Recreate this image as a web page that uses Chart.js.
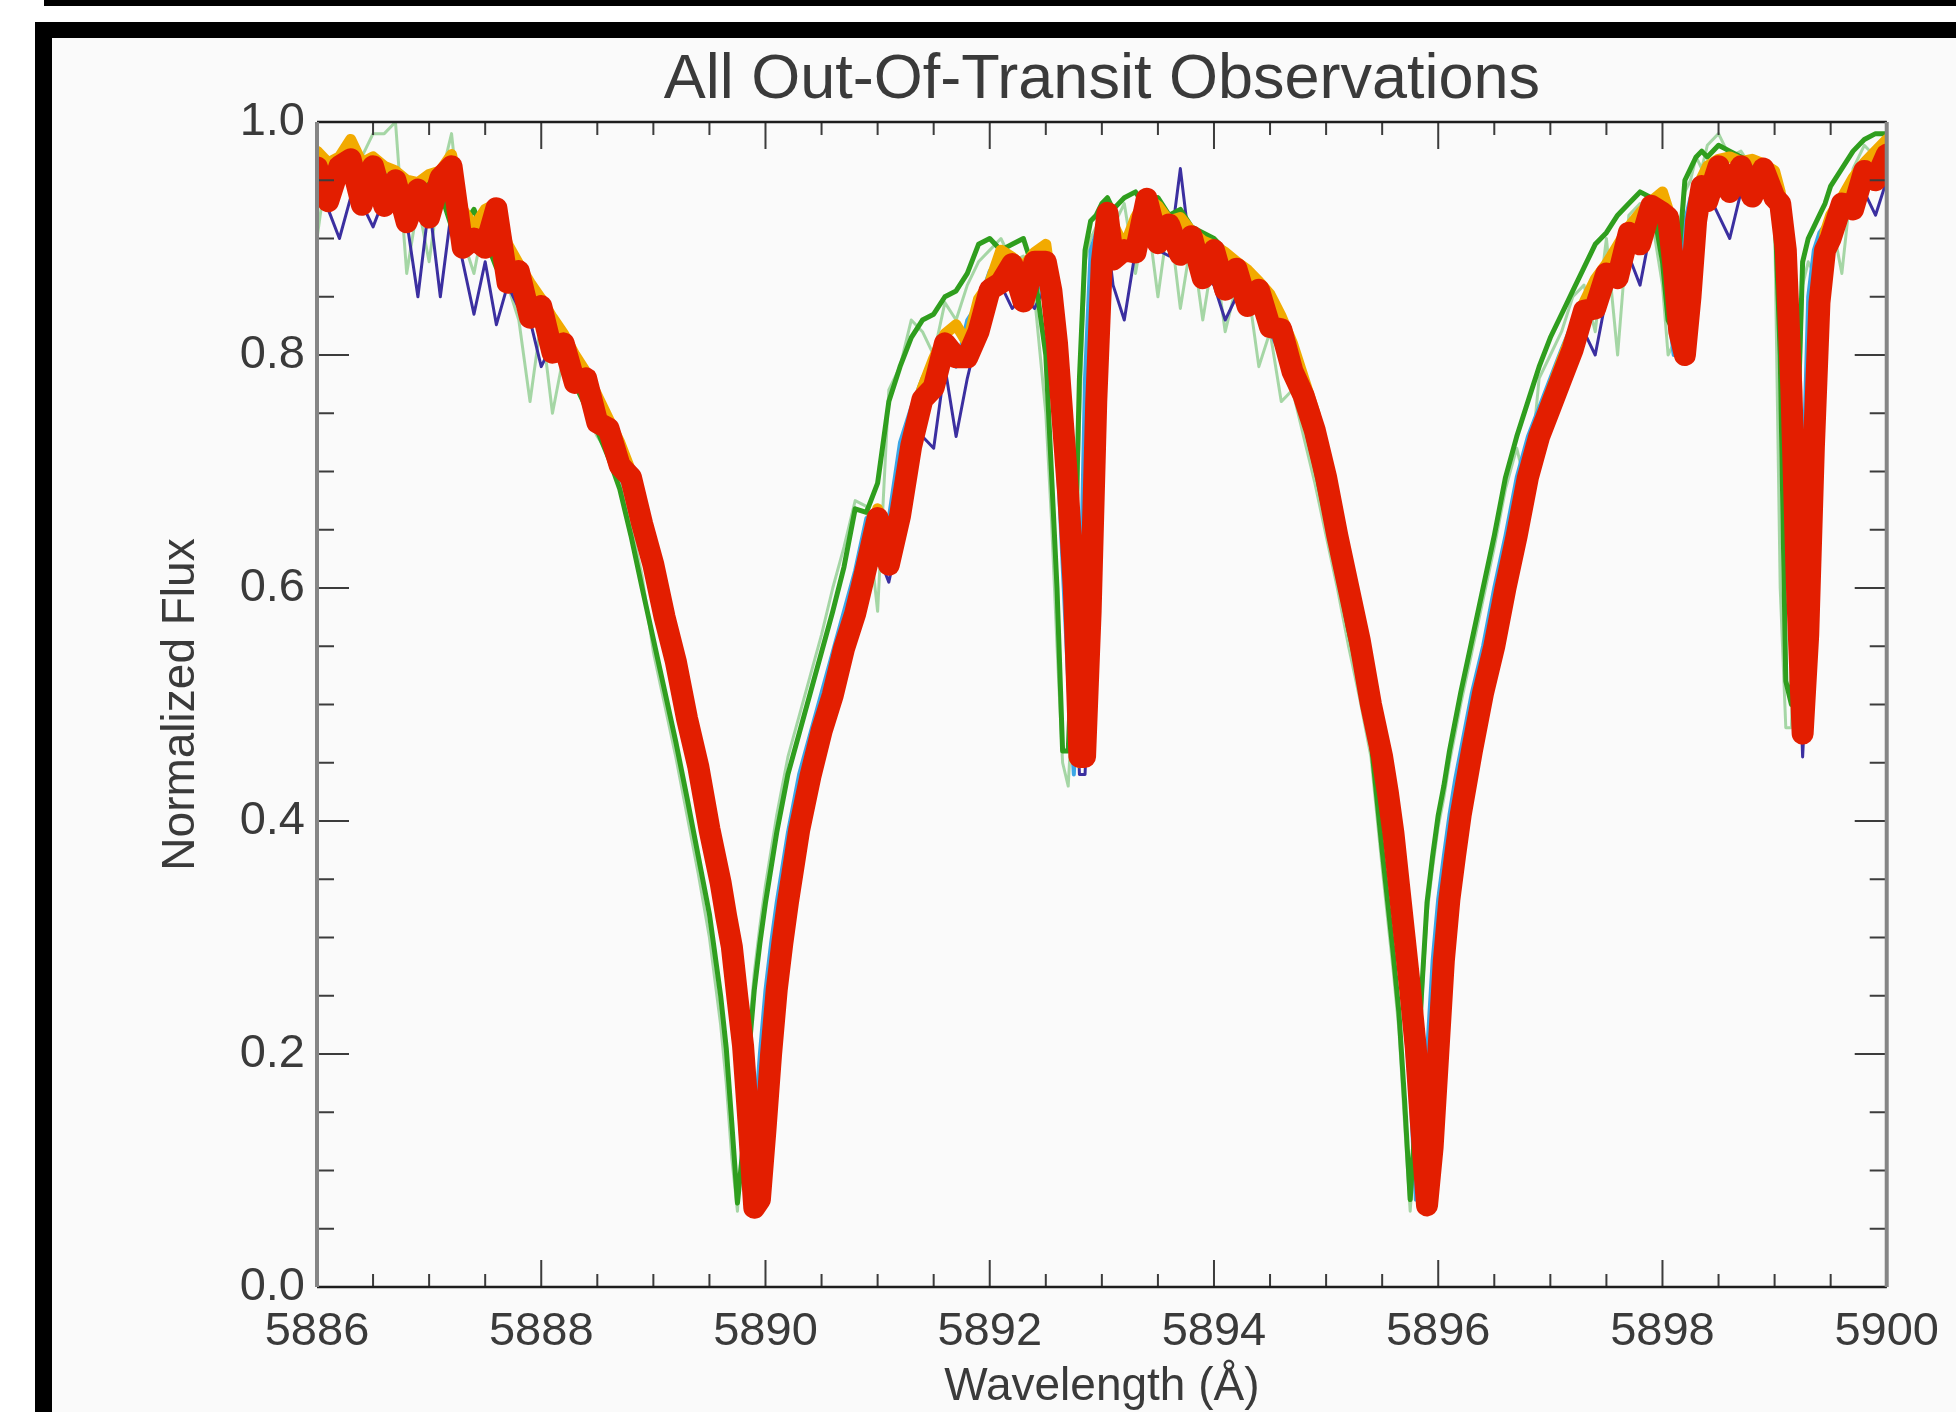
<!DOCTYPE html>
<html>
<head>
<meta charset="utf-8">
<title>All Out-Of-Transit Observations</title>
<script src="https://cdn.jsdelivr.net/npm/chart.js@4.4.0/dist/chart.umd.min.js"></script>
<style>
  html, body { margin: 0; padding: 0; background: #fff; }
  body { width: 1956px; height: 1412px; position: relative; overflow: hidden; }
  #topbar { position: absolute; left: 44px; top: 0; width: 1912px; height: 6px; background: #000; }
  #frame { position: absolute; left: 35px; top: 22px; width: 1921px; height: 1390px; background: #000; }
  #panel { position: absolute; left: 52px; top: 38px; width: 1904px; height: 1374px; background: #fafafa; }
  #panel canvas { position: absolute; left: 0; top: 0; }
</style>
</head>
<body>
<div id="topbar"></div>
<div id="frame"></div>
<div id="panel"><canvas id="spectra" width="1904" height="1374"></canvas></div>
<script>
// wavelength grid (Angstrom), finer around the line cores
const wave = [
  5886.0, 5886.1, 5886.2, 5886.3, 5886.4, 5886.5, 5886.6, 5886.7, 5886.8, 5886.9,
  5887.0, 5887.1, 5887.2, 5887.3, 5887.4, 5887.5, 5887.6, 5887.7, 5887.8, 5887.9,
  5888.0, 5888.1, 5888.2, 5888.3, 5888.4, 5888.5, 5888.6, 5888.7, 5888.8, 5888.9,
  5889.0, 5889.1, 5889.2, 5889.3, 5889.4, 5889.5, 5889.6, 5889.65, 5889.7, 5889.75,
  5889.8, 5889.85, 5889.9, 5889.95, 5890.0, 5890.05, 5890.1, 5890.15, 5890.2, 5890.3,
  5890.4, 5890.5, 5890.6, 5890.7, 5890.8, 5890.9, 5891.0, 5891.1, 5891.2, 5891.3,
  5891.4, 5891.5, 5891.6, 5891.7, 5891.8, 5891.9, 5892.0, 5892.1, 5892.2, 5892.3,
  5892.4, 5892.5, 5892.55, 5892.6, 5892.65, 5892.7, 5892.75, 5892.8, 5892.85, 5892.9,
  5892.95, 5893.0, 5893.05, 5893.1, 5893.2, 5893.3, 5893.4, 5893.5, 5893.6, 5893.7,
  5893.8, 5893.9, 5894.0, 5894.1, 5894.2, 5894.3, 5894.4, 5894.5, 5894.6, 5894.7,
  5894.8, 5894.9, 5895.0, 5895.1, 5895.2, 5895.3, 5895.4, 5895.5, 5895.55, 5895.6,
  5895.65, 5895.7, 5895.75, 5895.8, 5895.85, 5895.9, 5895.95, 5896.0, 5896.05, 5896.1,
  5896.15, 5896.2, 5896.3, 5896.4, 5896.5, 5896.6, 5896.7, 5896.8, 5896.9, 5897.0,
  5897.1, 5897.2, 5897.3, 5897.4, 5897.5, 5897.6, 5897.7, 5897.8, 5897.9, 5898.0,
  5898.05, 5898.1, 5898.15, 5898.2, 5898.25, 5898.3, 5898.35, 5898.4, 5898.5, 5898.6,
  5898.7, 5898.8, 5898.9, 5899.0, 5899.05, 5899.1, 5899.15, 5899.2, 5899.25, 5899.3,
  5899.35, 5899.4, 5899.45, 5899.5, 5899.6, 5899.7, 5899.8, 5899.9, 5900.0
];

const fluxRed = [
  0.961, 0.932, 0.962, 0.968, 0.929, 0.962, 0.928, 0.950, 0.914, 0.942,
  0.918, 0.952, 0.962, 0.892, 0.900, 0.892, 0.926, 0.862, 0.872, 0.832,
  0.842, 0.802, 0.810, 0.776, 0.780, 0.742, 0.737, 0.705, 0.695, 0.655,
  0.620, 0.575, 0.537, 0.488, 0.447, 0.393, 0.347, 0.318, 0.292, 0.248,
  0.207, 0.140, 0.068, 0.075, 0.135, 0.200, 0.255, 0.295, 0.330, 0.392,
  0.438, 0.477, 0.508, 0.548, 0.578, 0.618, 0.660, 0.620, 0.662, 0.722,
  0.762, 0.772, 0.810, 0.798, 0.798, 0.820, 0.856, 0.862, 0.878, 0.846,
  0.880, 0.880, 0.855, 0.810, 0.745, 0.680, 0.600, 0.455, 0.455, 0.580,
  0.760, 0.880, 0.922, 0.882, 0.890, 0.888, 0.934, 0.896, 0.912, 0.886,
  0.902, 0.866, 0.890, 0.856, 0.874, 0.842, 0.856, 0.824, 0.822, 0.786,
  0.765, 0.735, 0.695, 0.645, 0.600, 0.555, 0.500, 0.455, 0.425, 0.390,
  0.345, 0.300, 0.255, 0.205, 0.135, 0.070, 0.120, 0.200, 0.280, 0.333,
  0.370, 0.405, 0.460, 0.510, 0.550, 0.600, 0.645, 0.695, 0.730, 0.755,
  0.780, 0.805, 0.838, 0.840, 0.870, 0.866, 0.905, 0.895, 0.928, 0.922,
  0.918, 0.875, 0.820, 0.800, 0.850, 0.915, 0.945, 0.932, 0.962, 0.940,
  0.962, 0.936, 0.960, 0.935, 0.930, 0.890, 0.770, 0.600, 0.475, 0.560,
  0.720, 0.845, 0.890, 0.900, 0.930, 0.925, 0.958, 0.950, 0.972
];

const fluxYellow = [
  0.975, 0.965, 0.970, 0.985, 0.965, 0.970, 0.962, 0.958, 0.950, 0.948,
  0.955, 0.958, 0.972, 0.925, 0.910, 0.925, 0.930, 0.895, 0.878, 0.862,
  0.848, 0.832, 0.818, 0.800, 0.785, 0.765, 0.745, 0.725, 0.700, 0.670,
  0.630, 0.585, 0.540, 0.495, 0.448, 0.398, 0.345, 0.318, 0.285, 0.240,
  0.190, 0.120, 0.070, 0.090, 0.150, 0.210, 0.262, 0.302, 0.338, 0.398,
  0.446, 0.482, 0.518, 0.553, 0.590, 0.628, 0.668, 0.635, 0.680, 0.740,
  0.772, 0.797, 0.818, 0.826, 0.810, 0.848, 0.862, 0.890, 0.884, 0.876,
  0.888, 0.895, 0.860, 0.805, 0.735, 0.665, 0.575, 0.450, 0.470, 0.620,
  0.800, 0.895, 0.925, 0.912, 0.893, 0.918, 0.935, 0.928, 0.915, 0.918,
  0.906, 0.898, 0.894, 0.888, 0.880, 0.873, 0.863, 0.852, 0.833, 0.810,
  0.780, 0.750, 0.705, 0.655, 0.610, 0.565, 0.510, 0.462, 0.430, 0.392,
  0.345, 0.298, 0.250, 0.190, 0.120, 0.075, 0.130, 0.215, 0.290, 0.342,
  0.378, 0.413, 0.470, 0.520, 0.562, 0.612, 0.660, 0.708, 0.742, 0.768,
  0.795, 0.820, 0.845, 0.865, 0.878, 0.894, 0.910, 0.922, 0.932, 0.940,
  0.925, 0.870, 0.815, 0.810, 0.870, 0.930, 0.952, 0.962, 0.968, 0.970,
  0.966, 0.968, 0.964, 0.958, 0.940, 0.880, 0.730, 0.570, 0.490, 0.600,
  0.760, 0.865, 0.905, 0.920, 0.935, 0.952, 0.965, 0.975, 0.985
];

const fluxGreen = [
  0.970, 0.955, 0.972, 0.958, 0.965, 0.950, 0.955, 0.940, 0.945, 0.935,
  0.950, 0.940, 0.910, 0.910, 0.925, 0.900, 0.875, 0.865, 0.850, 0.835,
  0.820, 0.805, 0.790, 0.775, 0.755, 0.735, 0.712, 0.685, 0.645, 0.600,
  0.556, 0.512, 0.468, 0.420, 0.370, 0.320, 0.250, 0.205, 0.140, 0.072,
  0.120, 0.200, 0.255, 0.295, 0.330, 0.360, 0.390, 0.415, 0.440, 0.475,
  0.510, 0.545, 0.580, 0.618, 0.668, 0.665, 0.690, 0.760, 0.790, 0.815,
  0.830, 0.835, 0.850, 0.855, 0.870, 0.895, 0.900, 0.890, 0.895, 0.900,
  0.870, 0.800, 0.700, 0.600, 0.460, 0.460, 0.580, 0.780, 0.890, 0.915,
  0.920, 0.930, 0.935, 0.925, 0.935, 0.940, 0.925, 0.935, 0.920, 0.925,
  0.910, 0.905, 0.900, 0.890, 0.880, 0.868, 0.850, 0.830, 0.805, 0.778,
  0.745, 0.705, 0.660, 0.615, 0.565, 0.520, 0.470, 0.375, 0.330, 0.285,
  0.235, 0.160, 0.075, 0.150, 0.250, 0.330, 0.370, 0.405, 0.430, 0.460,
  0.485, 0.510, 0.555, 0.600, 0.645, 0.695, 0.730, 0.760, 0.790, 0.815,
  0.835, 0.855, 0.875, 0.895, 0.905, 0.920, 0.930, 0.940, 0.935, 0.880,
  0.830, 0.820, 0.890, 0.950, 0.960, 0.970, 0.975, 0.970, 0.980, 0.975,
  0.970, 0.965, 0.960, 0.935, 0.800, 0.520, 0.500, 0.720, 0.880, 0.900,
  0.910, 0.920, 0.930, 0.945, 0.960, 0.975, 0.985, 0.990, 0.990
];

const fluxCyan = [
  0.945, 0.947, 0.950, 0.948, 0.946, 0.946, 0.940, 0.932, 0.929, 0.932,
  0.936, 0.940, 0.920, 0.892, 0.895, 0.910, 0.890, 0.865, 0.850, 0.835,
  0.820, 0.805, 0.790, 0.777, 0.758, 0.737, 0.718, 0.697, 0.672, 0.630,
  0.590, 0.548, 0.505, 0.458, 0.410, 0.360, 0.308, 0.274, 0.232, 0.180,
  0.100, 0.070, 0.135, 0.200, 0.255, 0.295, 0.330, 0.360, 0.390, 0.440,
  0.475, 0.510, 0.545, 0.580, 0.615, 0.660, 0.620, 0.660, 0.725, 0.755,
  0.780, 0.800, 0.810, 0.790, 0.830, 0.845, 0.872, 0.866, 0.858, 0.870,
  0.880, 0.840, 0.790, 0.720, 0.620, 0.520, 0.440, 0.550, 0.780, 0.890,
  0.905, 0.900, 0.890, 0.885, 0.890, 0.912, 0.915, 0.902, 0.900, 0.893,
  0.884, 0.878, 0.872, 0.866, 0.858, 0.850, 0.838, 0.820, 0.800, 0.775,
  0.745, 0.710, 0.660, 0.614, 0.570, 0.516, 0.470, 0.410, 0.370, 0.327,
  0.282, 0.235, 0.170, 0.075, 0.120, 0.200, 0.280, 0.333, 0.370, 0.405,
  0.435, 0.460, 0.510, 0.550, 0.600, 0.645, 0.695, 0.730, 0.755, 0.780,
  0.805, 0.828, 0.847, 0.860, 0.876, 0.893, 0.905, 0.915, 0.924, 0.900,
  0.840, 0.800, 0.850, 0.915, 0.935, 0.945, 0.948, 0.950, 0.952, 0.950,
  0.949, 0.948, 0.944, 0.925, 0.860, 0.720, 0.550, 0.480, 0.680, 0.850,
  0.890, 0.905, 0.912, 0.920, 0.930, 0.945, 0.955, 0.965, 0.970
];

const fluxPaleGreen = [
  0.900, 0.970, 0.960, 0.985, 0.970, 0.990, 0.990, 1.000, 0.870, 0.930,
  0.880, 0.950, 0.990, 0.900, 0.870, 0.920, 0.885, 0.860, 0.830, 0.760,
  0.830, 0.750, 0.800, 0.780, 0.750, 0.730, 0.715, 0.690, 0.655, 0.610,
  0.545, 0.500, 0.455, 0.405, 0.355, 0.300, 0.225, 0.175, 0.110, 0.065,
  0.140, 0.215, 0.270, 0.310, 0.345, 0.375, 0.405, 0.430, 0.455, 0.490,
  0.525, 0.560, 0.600, 0.635, 0.675, 0.670, 0.580, 0.770, 0.790, 0.830,
  0.820, 0.800, 0.845, 0.830, 0.860, 0.880, 0.890, 0.900, 0.880, 0.885,
  0.850, 0.750, 0.660, 0.550, 0.450, 0.430, 0.520, 0.740, 0.880, 0.900,
  0.910, 0.925, 0.920, 0.910, 0.930, 0.870, 0.925, 0.850, 0.920, 0.840,
  0.900, 0.830, 0.890, 0.820, 0.860, 0.860, 0.790, 0.820, 0.760, 0.770,
  0.730, 0.690, 0.645, 0.600, 0.550, 0.505, 0.455, 0.360, 0.315, 0.270,
  0.220, 0.140, 0.065, 0.140, 0.240, 0.320, 0.360, 0.395, 0.420, 0.450,
  0.475, 0.500, 0.545, 0.590, 0.635, 0.685, 0.720, 0.680, 0.780, 0.800,
  0.820, 0.850, 0.860, 0.820, 0.900, 0.800, 0.920, 0.930, 0.920, 0.860,
  0.800, 0.810, 0.880, 0.940, 0.950, 0.970, 0.960, 0.980, 0.990, 0.970,
  0.975, 0.960, 0.950, 0.920, 0.600, 0.480, 0.480, 0.700, 0.860, 0.880,
  0.870, 0.900, 0.860, 0.920, 0.870, 0.960, 0.980, 0.970, 0.990
];

const fluxBlue = [
  0.930, 0.925, 0.900, 0.935, 0.930, 0.910, 0.935, 0.925, 0.915, 0.850,
  0.930, 0.850, 0.925, 0.880, 0.835, 0.880, 0.826, 0.860, 0.840, 0.830,
  0.790, 0.810, 0.785, 0.780, 0.760, 0.740, 0.720, 0.700, 0.680, 0.650,
  0.615, 0.572, 0.530, 0.485, 0.440, 0.390, 0.340, 0.315, 0.285, 0.245,
  0.200, 0.135, 0.070, 0.085, 0.140, 0.205, 0.260, 0.300, 0.335, 0.395,
  0.440, 0.478, 0.512, 0.547, 0.582, 0.600, 0.630, 0.605, 0.650, 0.700,
  0.730, 0.720, 0.790, 0.730, 0.780, 0.820, 0.840, 0.860, 0.840, 0.850,
  0.840, 0.860, 0.845, 0.800, 0.740, 0.670, 0.590, 0.440, 0.440, 0.570,
  0.750, 0.870, 0.900, 0.860, 0.830, 0.890, 0.910, 0.890, 0.885, 0.960,
  0.880, 0.870, 0.860, 0.830, 0.850, 0.840, 0.840, 0.820, 0.810, 0.785,
  0.760, 0.730, 0.690, 0.640, 0.595, 0.550, 0.495, 0.450, 0.420, 0.385,
  0.340, 0.295, 0.250, 0.200, 0.130, 0.070, 0.115, 0.195, 0.275, 0.330,
  0.365, 0.400, 0.455, 0.505, 0.545, 0.595, 0.640, 0.690, 0.725, 0.750,
  0.775, 0.800, 0.820, 0.800, 0.850, 0.870, 0.885, 0.860, 0.910, 0.915,
  0.910, 0.870, 0.815, 0.795, 0.845, 0.910, 0.930, 0.940, 0.920, 0.900,
  0.940, 0.930, 0.940, 0.935, 0.925, 0.885, 0.765, 0.595, 0.455, 0.555,
  0.715, 0.840, 0.885, 0.900, 0.910, 0.930, 0.940, 0.920, 0.950
];

// axis ranges and tick spacing
const xRange = [5886, 5900];
const yRange = [0, 1];
const xMajorStep = 2, xMinorStep = 0.5;
const yMajorStep = 0.2, yMinorStep = 0.05;

const fontFamily = '"Liberation Sans", Arial, Helvetica, sans-serif';
const textColor = '#3a3a3a';

function points(flux) {
  return wave.map((w, i) => ({ x: w, y: flux[i] }));
}

function series(label, flux, color, width) {
  return {
    label: label,
    data: points(flux),
    borderColor: color,
    borderWidth: width,
    pointRadius: 0,
    tension: 0,
    borderJoinStyle: 'round',
    borderCapStyle: 'round',
    fill: false,
    clip: 0,
  };
}

// first dataset is drawn on top
const datasets = [
  series('red', fluxRed, '#e31e00', 22),
  series('yellow', fluxYellow, '#f2aa00', 11),
  series('green', fluxGreen, '#2f9e1e', 5),
  series('cyan', fluxCyan, '#3ba6e6', 4),
  series('blue', fluxBlue, '#3b2fa0', 3),
  series('pale green', fluxPaleGreen, 'rgba(120,195,120,0.65)', 3),
];

// IDL style inward ticks on all four sides plus the box
const idlAxes = {
  id: 'idlAxes',
  afterDatasetsDraw(chart) {
    const { ctx, chartArea: a, scales } = chart;
    const xs = scales.x, ys = scales.y;
    ctx.save();
    ctx.strokeStyle = '#3c3c3c';
    ctx.lineWidth = 2;
    ctx.beginPath();
    const nx = Math.round((xRange[1] - xRange[0]) / xMinorStep);
    const xEvery = Math.round(xMajorStep / xMinorStep);
    for (let i = 0; i <= nx; i++) {
      const px = xs.getPixelForValue(xRange[0] + i * xMinorStep);
      const len = i % xEvery === 0 ? 27 : 13;
      ctx.moveTo(px, a.bottom); ctx.lineTo(px, a.bottom - len);
      ctx.moveTo(px, a.top); ctx.lineTo(px, a.top + len);
    }
    const ny = Math.round((yRange[1] - yRange[0]) / yMinorStep);
    const yEvery = Math.round(yMajorStep / yMinorStep);
    for (let i = 0; i <= ny; i++) {
      const py = ys.getPixelForValue(yRange[0] + i * yMinorStep);
      const len = i % yEvery === 0 ? 32 : 17;
      ctx.moveTo(a.left, py); ctx.lineTo(a.left + len, py);
      ctx.moveTo(a.right, py); ctx.lineTo(a.right - len, py);
    }
    ctx.stroke();

    ctx.strokeStyle = '#1e1e1e';
    ctx.lineWidth = 2.5;
    ctx.beginPath();
    ctx.moveTo(a.left, a.top); ctx.lineTo(a.right, a.top);
    ctx.moveTo(a.left, a.bottom); ctx.lineTo(a.right, a.bottom);
    ctx.stroke();

    ctx.strokeStyle = '#858585';
    ctx.lineWidth = 4;
    ctx.beginPath();
    ctx.moveTo(a.left, a.top); ctx.lineTo(a.left, a.bottom);
    ctx.moveTo(a.right, a.top); ctx.lineTo(a.right, a.bottom);
    ctx.stroke();
    ctx.restore();
  }
};

const config = {
  type: 'line',
  data: { datasets: datasets },
  options: {
    responsive: false,
    maintainAspectRatio: false,
    animation: false,
    devicePixelRatio: 1,
    layout: { padding: { left: 0, right: 64, top: 0, bottom: 0 } },
    plugins: {
      legend: { display: false },
      tooltip: { enabled: false },
      title: {
        display: true,
        text: 'All Out-Of-Transit Observations',
        fullSize: false,
        color: textColor,
        font: { family: fontFamily, size: 63, weight: 'normal', lineHeight: 1 },
        padding: { top: 11, bottom: 10 },
      },
    },
    scales: {
      x: {
        type: 'linear',
        min: xRange[0],
        max: xRange[1],
        grid: { display: false, drawTicks: false },
        border: { display: false },
        ticks: {
          stepSize: xMajorStep,
          autoSkip: false,
          maxRotation: 0,
          padding: 17,
          color: textColor,
          font: { family: fontFamily, size: 47 },
          callback: (v) => v.toFixed(0),
        },
        title: {
          display: true,
          text: 'Wavelength (Å)',
          color: textColor,
          font: { family: fontFamily, size: 46, lineHeight: 1 },
          padding: { top: 0, bottom: 2 },
        },
        afterFit(scale) { scale.height = 125; },
      },
      y: {
        min: yRange[0],
        max: yRange[1],
        grid: { display: false, drawTicks: false },
        border: { display: false },
        ticks: {
          stepSize: yMajorStep,
          padding: 12,
          color: textColor,
          font: { family: fontFamily, size: 47 },
          callback: (v) => v.toFixed(1),
        },
        title: {
          display: true,
          text: 'Normalized Flux',
          color: textColor,
          font: { family: fontFamily, size: 46, lineHeight: 1 },
          padding: { top: 106, bottom: 0 },
        },
        afterFit(scale) { scale.width = 265; },
      },
    },
  },
  plugins: [idlAxes],
};

const ctx = document.getElementById('spectra').getContext('2d');
const spectraChart = new Chart(ctx, config);
</script>
</body>
</html>
